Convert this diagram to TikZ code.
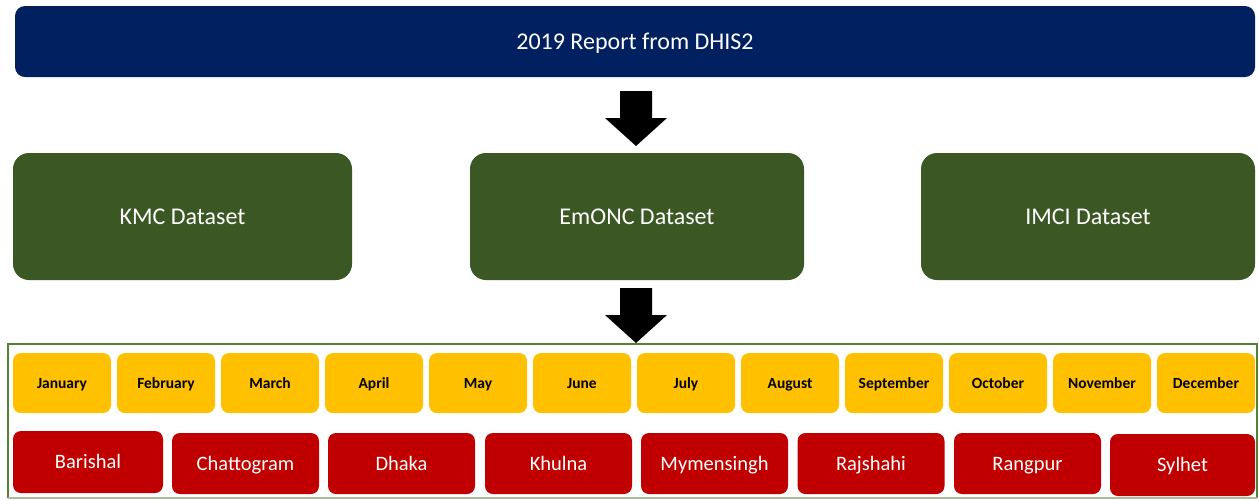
\documentclass[tikz,border=0pt]{standalone}
\usepackage{fontspec}
\setmainfont{Carlito}
\definecolor{navy}{HTML}{002060}
\definecolor{dkgreen}{HTML}{3A5724}
\definecolor{contgreen}{HTML}{548235}
\definecolor{contpale}{HTML}{A9BC9C}
\definecolor{gold}{HTML}{FFC000}
\definecolor{dkred}{HTML}{C00000}
\tikzset{
  topbox/.style={fill=navy, rounded corners=10pt, text=white, inner sep=0pt,
    font=\fontsize{24}{28}\selectfont, text height=15.5pt, text depth=0pt},
  dsbox/.style={fill=dkgreen, rounded corners=16pt, text=white, inner sep=0pt,
    minimum height=127pt, font=\fontsize{24}{28}\selectfont, text height=15.5pt, text depth=0pt},
  monthbox/.style={fill=gold, rounded corners=8pt, text=black, inner sep=0pt,
    minimum width=98pt, minimum height=60pt, font=\fontsize{15.5}{18}\selectfont\bfseries,
    text height=10pt, text depth=0pt},
  regbox/.style={fill=dkred, rounded corners=8pt, text=white, inner sep=0pt,
    minimum width=147pt, minimum height=61pt, font=\fontsize{20.5}{24}\selectfont,
    text height=13.2pt, text depth=0pt},
  blockarrow/.style={fill=black, draw=none}
}
\begin{document}
\begin{tikzpicture}[x=1pt,y=-1pt]
\useasboundingbox (0,0) rectangle (1259,499);
\node[topbox, minimum width=1240pt, minimum height=71pt] (top) at (635,41.5) {2019 Report from DHIS2};
\node[dsbox, minimum width=339pt] (kmc) at (182.5,216.5) {KMC Dataset};
\node[dsbox, minimum width=334pt] (emonc) at (637,216.5) {EmONC Dataset};
\node[dsbox, minimum width=334pt] (imci) at (1088,216.5) {IMCI Dataset};
% block arrows
\coordinate (a1) at (636,91);
\coordinate (a2) at (636,288);
\foreach \c in {a1,a2}{
  \fill[blockarrow] (\c) +(-16,0) -- +(16,0) -- +(16,27) -- +(31,27) -- +(0,55) -- +(-31,27) -- +(-16,27) -- cycle;
}
% container
\coordinate (cA) at (8,344);
\coordinate (cB) at (1257,344);
\coordinate (cC) at (1257,497.5);
\coordinate (cD) at (8,497.5);
\draw[contgreen, line width=2pt] (cD) -- (cA) -- (cB) -- (cC);
\draw[contpale, line width=2pt] (cC) -- (cD);
% months
\foreach \m [count=\i from 0] in {January,February,March,April,May,June,July,August,September,October,November,December}{
  \node[monthbox] (m\i) at ({62+104*\i},383) {\m};
}
% regions
\node[regbox, minimum width=150pt, minimum height=62pt] (r0) at (88,462) {Barishal};
\node[regbox] (r1) at (245.5,463.5) {Chattogram};
\node[regbox] (r2) at (401.5,463.5) {Dhaka};
\node[regbox] (r3) at (558.5,463.5) {Khulna};
\node[regbox] (r4) at (714.5,463.5) {Mymensingh};
\node[regbox] (r5) at (871,463.5) {Rajshahi};
\node[regbox] (r6) at (1027.5,463.5) {Rangpur};
\node[regbox, minimum width=145pt, minimum height=62pt] (r7) at (1182.5,465) {Sylhet};
\end{tikzpicture}
\end{document}
